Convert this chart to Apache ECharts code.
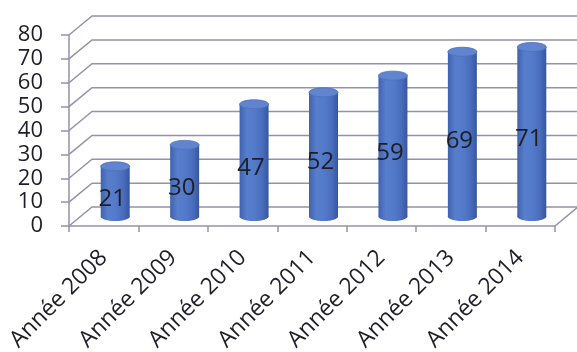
<!DOCTYPE html>
<html>
<head>
<meta charset="utf-8">
<script src="https://cdn.jsdelivr.net/npm/echarts@6/dist/echarts.min.js"></script>
<style>
html,body{margin:0;padding:0;background:#fff;}
#chart{width:577px;height:352px;}
</style>
</head>
<body>
<div id="chart"></div>
<script>
var categories = ['Année 2008','Année 2009','Année 2010','Année 2011','Année 2012','Année 2013','Année 2014'];
var values = [21, 30, 47, 52, 59, 69, 71];
var yTicks = [0, 10, 20, 30, 40, 50, 60, 70, 80];

var DX = 23, DY = -19;      // depth offset of back wall
var BAR_W = 29, RY = 4.5;
var GRID_COLOR = '#9691aa';
var FONT = '"Open Sans", sans-serif';

var chart = echarts.init(document.getElementById('chart'), null, {renderer: 'canvas'});

function wallsItem(params, api) {
  var cs = params.coordSys;
  var x0 = cs.x, x1 = cs.x + cs.width;
  var children = [];
  yTicks.forEach(function (v) {
    var y = api.coord([0, v])[1];
    children.push({
      type: 'polyline',
      shape: {points: [[x0, y], [x0 + DX, y + DY], [x1 + DX, y + DY]]},
      style: {stroke: GRID_COLOR, lineWidth: 1.5, fill: null}
    });
  });
  var yb = api.coord([0, 0])[1];
  children.push({
    type: 'line',
    shape: {x1: x1, y1: yb, x2: x1 + DX, y2: yb + DY},
    style: {stroke: GRID_COLOR, lineWidth: 1.5}
  });
  return {type: 'group', children: children};
}

function barItem(params, api) {
  var i = api.value(0), v = api.value(1);
  var top = api.coord([i, v]);
  var base = api.coord([i, 0]);
  var cx = top[0] + DX / 2;
  var yt = top[1] + DY / 2;
  var yb = base[1] + DY / 2;
  var grad = new echarts.graphic.LinearGradient(0, 0, 1, 0, [
    {offset: 0, color: '#4062b0'},
    {offset: 0.25, color: '#577ecb'},
    {offset: 0.5, color: '#547bca'},
    {offset: 0.8, color: '#486cbb'},
    {offset: 1, color: '#36569e'}
  ]);
  var labelY = api.coord([i, v / 2])[1] - 2;
  return {
    type: 'group',
    children: [
      {type: 'ellipse', shape: {cx: cx, cy: yb, rx: BAR_W / 2, ry: RY}, style: {fill: grad}},
      {type: 'rect', shape: {x: cx - BAR_W / 2, y: yt, width: BAR_W, height: yb - yt}, style: {fill: grad}},
      {type: 'ellipse', shape: {cx: cx, cy: yt, rx: BAR_W / 2, ry: RY}, style: {fill: '#6184cf', stroke: '#4d70bb', lineWidth: 0.8}},
      {type: 'text', x: cx - 3, y: labelY, style: {text: String(v), fill: '#1e1e28', font: '24px ' + FONT, align: 'center', verticalAlign: 'middle'}}
    ]
  };
}

chart.setOption({
  animation: false,
  backgroundColor: '#ffffff',
  grid: {left: 69, right: 22, top: 35, bottom: 126, containLabel: false, outerBoundsMode: 'none'},
  xAxis: {
    type: 'category',
    data: categories,
    boundaryGap: true,
    axisLine: {show: true, lineStyle: {color: GRID_COLOR, width: 1.5}},
    axisTick: {show: true, length: 6, alignWithLabel: false, lineStyle: {color: GRID_COLOR, width: 1.5}},
    axisLabel: {rotate: 45, fontSize: 23, fontFamily: FONT, color: '#1e1e28', margin: 28, interval: 0}
  },
  yAxis: {
    type: 'value',
    min: 0, max: 80, interval: 10,
    axisLine: {show: true, lineStyle: {color: GRID_COLOR, width: 1.5}},
    axisTick: {show: true, length: 8, lineStyle: {color: GRID_COLOR, width: 1.5}},
    axisLabel: {fontSize: 22, fontFamily: FONT, color: '#1e1e28', margin: 26},
    splitLine: {show: false}
  },
  series: [
    {
      type: 'custom',
      renderItem: wallsItem,
      data: [[0, 0]],
      clip: false,
      z: 1,
      silent: true
    },
    {
      type: 'custom',
      renderItem: barItem,
      data: values.map(function (v, i) { return [i, v]; }),
      encode: {x: 0, y: 1},
      clip: false,
      z: 3
    }
  ]
});
</script>
</body>
</html>
